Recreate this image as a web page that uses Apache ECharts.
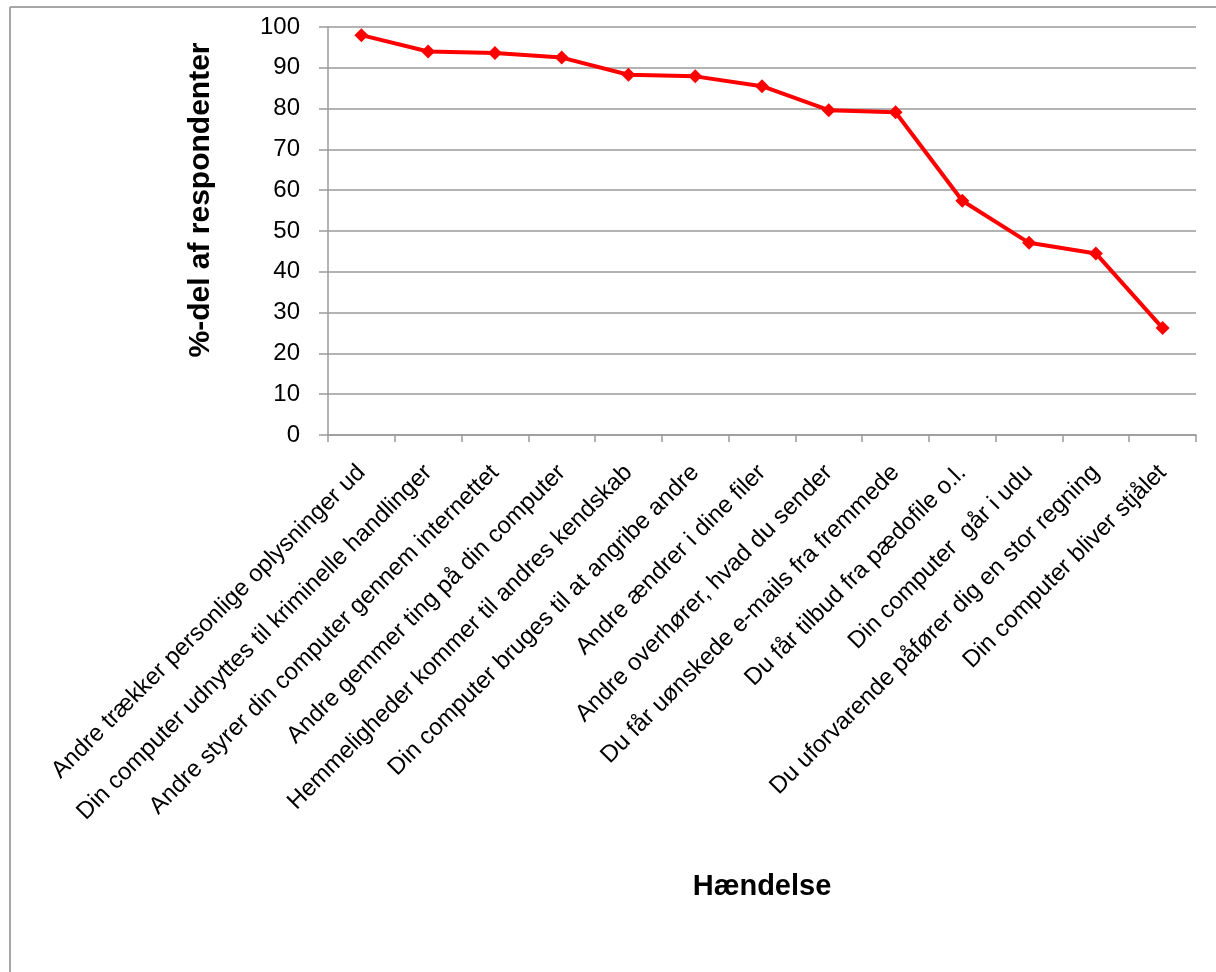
<!DOCTYPE html>
<html>
<head>
<meta charset="utf-8">
<script src="https://cdn.jsdelivr.net/npm/echarts@6/dist/echarts.min.js"></script>
<style>
  html, body { margin: 0; padding: 0; background: #fff; }
  #chart { width: 1216px; height: 972px; }
</style>
</head>
<body>
<div id="chart"></div>
<script>
// Events (Hændelse) and share of respondents in percent
const categories = [
  'Andre trækker personlige oplysninger ud',
  'Din computer udnyttes til kriminelle handlinger',
  'Andre styrer din computer gennem internettet',
  'Andre gemmer ting på din computer',
  'Hemmeligheder kommer til andres kendskab',
  'Din computer bruges til at angribe andre',
  'Andre ændrer i dine filer',
  'Andre overhører, hvad du sender',
  'Du får uønskede e-mails fra fremmede',
  'Du får tilbud fra pædofile o.l.',
  'Din computer  går i udu',
  'Du uforvarende påfører dig en stor regning',
  'Din computer bliver stjålet'
];
const shares = [98.0, 94.0, 93.6, 92.5, 88.3, 87.9, 85.5, 79.6, 79.1, 57.4, 47.1, 44.5, 26.2];
const yTicks = [0, 10, 20, 30, 40, 50, 60, 70, 80, 90, 100];

const font = '"Liberation Sans", "Open Sans", sans-serif';
const chart = echarts.init(document.getElementById('chart'), null, { renderer: 'canvas' });

chart.setOption({
  backgroundColor: '#ffffff',
  animation: false,
  graphic: [
    { type: 'line', shape: { x1: 10, y1: 7, x2: 1216, y2: 7 }, style: { stroke: '#a6a6a6', lineWidth: 2 } },
    { type: 'line', shape: { x1: 10, y1: 7, x2: 10, y2: 972 }, style: { stroke: '#a6a6a6', lineWidth: 2 } }
  ],
  grid: { left: 328, right: 20, top: 27, bottom: 537, containLabel: false },
  xAxis: {
    type: 'category',
    data: categories,
    boundaryGap: true,
    name: 'Hændelse',
    nameLocation: 'middle',
    nameGap: 437,
    nameTextStyle: { fontFamily: font, fontSize: 29, fontWeight: 'bold', color: '#000' },
    axisLine: { show: true, lineStyle: { color: '#9a9a9a', width: 1.5 } },
    axisTick: { show: true, length: 7, lineStyle: { color: '#9a9a9a', width: 1.5 } },
    axisLabel: {
      interval: 0,
      rotate: 45,
      margin: 34,
      fontFamily: font,
      fontSize: 24,
      color: '#000'
    },
    splitLine: { show: false }
  },
  yAxis: {
    type: 'value',
    min: yTicks[0],
    max: yTicks[yTicks.length - 1],
    interval: 10,
    name: '%-del af respondenter',
    nameLocation: 'middle',
    nameGap: 112,
    nameTextStyle: { fontFamily: font, fontSize: 30, fontWeight: 'bold', color: '#000', padding: [0, 0, 0, 62] },
    axisLine: { show: true, lineStyle: { color: '#9a9a9a', width: 1.5 } },
    axisTick: { show: true, length: 9, lineStyle: { color: '#9a9a9a', width: 1.5 } },
    axisLabel: { margin: 28, fontFamily: font, fontSize: 24, color: '#000' },
    splitLine: { show: true, lineStyle: { color: '#9a9a9a', width: 1.5 } }
  },
  series: [{
    type: 'line',
    data: shares,
    symbol: 'diamond',
    symbolSize: 14,
    lineStyle: { color: '#ff0000', width: 4 },
    itemStyle: { color: '#ff0000' }
  }]
});
</script>
</body>
</html>
